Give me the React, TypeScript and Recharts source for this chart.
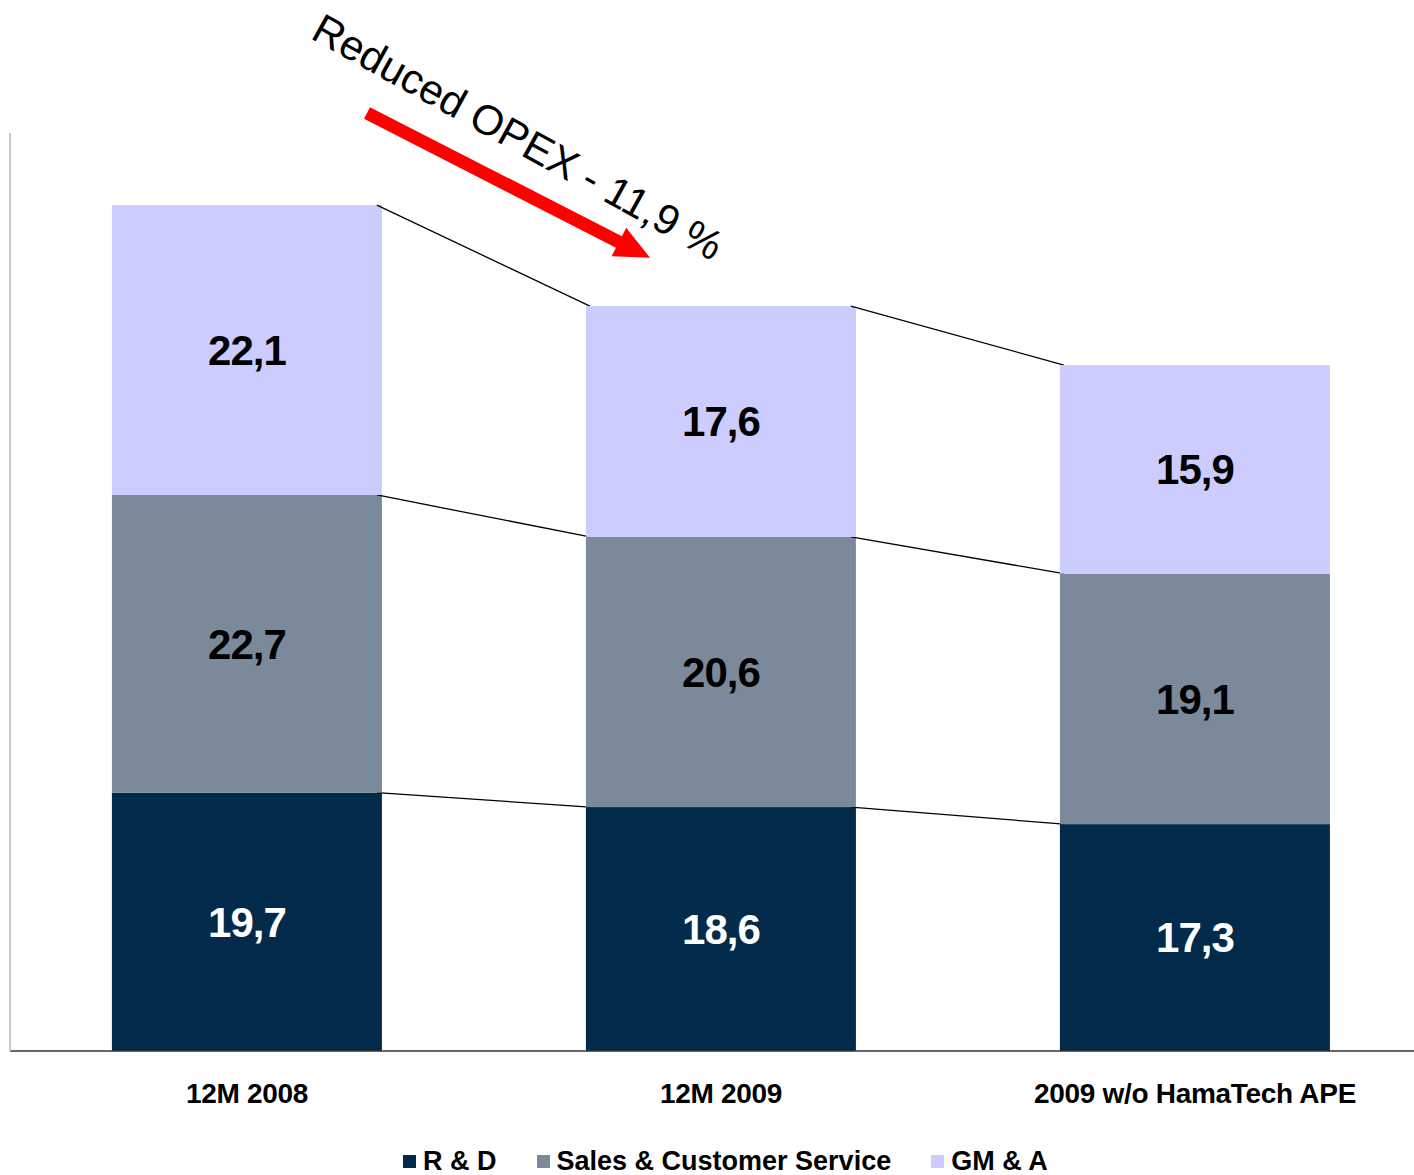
import { BarChart, Bar, XAxis, YAxis, LabelList, Legend } from "recharts";

const categories = ["12M 2008", "12M 2009", "2009 w/o HamaTech APE"];
const rnd = [19.7, 18.6, 17.3];
const sales = [22.7, 20.6, 19.1];
const gma = [22.1, 17.6, 15.9];

const seriesKeys = ["rnd", "sales", "gma"];
const seriesNames = ["R & D", "Sales & Customer Service", "GM & A"];
const seriesColors = ["#022b4b", "#7a8a9b", "#ccccff"];

const data = categories.map((name, i) => ({
  name,
  rnd: rnd[i],
  sales: sales[i],
  gma: gma[i],
}));

const W = 1432;
const H = 1175;
const M = { top: 133, right: 0, left: 8, bottom: 0 };
const YW = 2;
const band = (W - M.left - M.right - YW) / categories.length;
const FONT = "'Liberation Sans', Arial, sans-serif";

const cumTo = (row: any, key: string) => {
  let s = 0;
  for (const k of seriesKeys) {
    s += row[k];
    if (k === key) break;
  }
  return s;
};

// bar segment plus the thin connector line to the same segment of the next bar
const makeShape = (key: string, color: string) => (props: any) => {
  const { x, y, width, height, index } = props;
  const row = data[index];
  const k = height / row[key];
  const y0 = y + k * cumTo(row, key);
  let conn = null;
  if (index < data.length - 1) {
    const next = data[index + 1];
    const ny = y0 - k * cumTo(next, key);
    conn = (
      <line x1={x + width - 5} y1={y} x2={x + band + 4} y2={ny} stroke="#000" strokeWidth={1.3} />
    );
  }
  return (
    <g>
      <rect x={x} y={y} width={width} height={height} fill={color} />
      {conn}
    </g>
  );
};

const Tick = ({ x, payload }: any) => (
  <text x={x} y={1103} textAnchor="middle" fontFamily={FONT} fontWeight="bold" fontSize={28} letterSpacing={-0.3} fill="#000">
    {payload.value}
  </text>
);

const LegendBox = () => (
  <div style={{ height: 40, display: "flex", justifyContent: "flex-start", alignItems: "center", fontFamily: FONT, fontWeight: "bold", fontSize: 27, paddingLeft: 395, paddingTop: 12, boxSizing: "border-box" }}>
    {seriesNames.map((n, i) => (
      <span key={n} style={{ display: "flex", alignItems: "center", marginRight: 40 }}>
        <span style={{ width: 13, height: 13, background: seriesColors[i], marginRight: 7, display: "inline-block" }} />
        {n}
      </span>
    ))}
  </div>
);

export default function App() {
  return (
    <div style={{ position: "absolute", left: 0, top: 0, width: 1414, height: H, overflow: "hidden", background: "#fff" }}>
      <BarChart width={W} height={H} data={data} margin={M} barCategoryGap="21.5%">
        <XAxis dataKey="name" tick={<Tick />} tickLine={false} axisLine={{ stroke: "#333", strokeWidth: 1.5 }} height={84} />
        <YAxis width={YW} domain={[0, 70]} tick={false} tickLine={false} axisLine={{ stroke: "#c8c8c8", strokeWidth: 2 }} />
        <Legend verticalAlign="bottom" content={<LegendBox />} />
        {seriesKeys.map((key, i) => (
          <Bar key={key} dataKey={key} name={seriesNames[i]} stackId="a" fill={seriesColors[i]} isAnimationActive={false} shape={makeShape(key, seriesColors[i])}>
            <LabelList dataKey={key} position="center" formatter={(v: any) => String(v).replace(".", ",")} fill={i === 0 ? "#fff" : "#000"} style={{ fontFamily: FONT, fontWeight: "bold", fontSize: 42, letterSpacing: -1 }} />
          </Bar>
        ))}
      </BarChart>
      <svg width={1414} height={H} style={{ position: "absolute", left: 0, top: 0, pointerEvents: "none" }}>
        <g transform="translate(367,113) rotate(27.1)">
          <polygon points="0,-6.5 283,-6.5 283,-16 318,0 283,16 283,6.5 0,6.5" fill="#ff0000" />
        </g>
        <text x={518} y={137} transform="rotate(29 518 137)" textAnchor="middle" dominantBaseline="central" fontFamily={FONT} fontSize={42} fill="#000">
          Reduced OPEX - 11,9 %
        </text>
      </svg>
    </div>
  );
}
